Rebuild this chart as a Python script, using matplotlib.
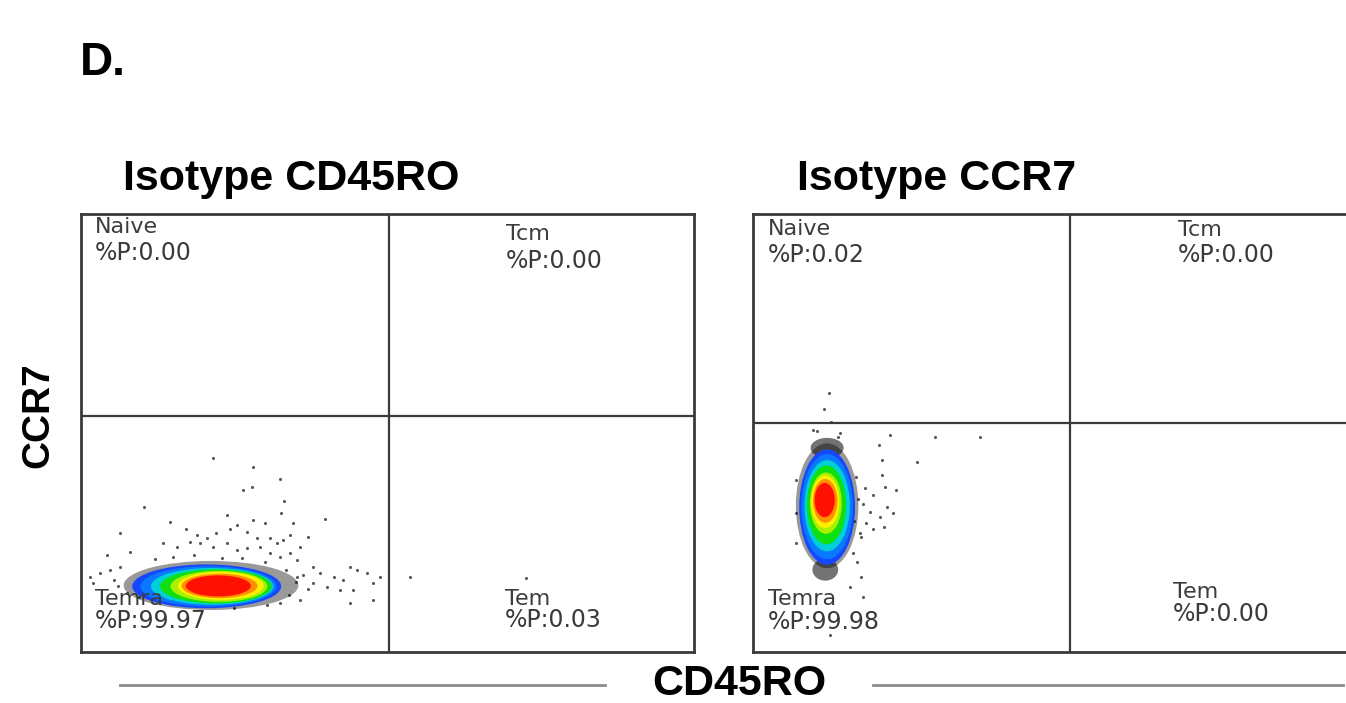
import matplotlib as mpl
mpl.use("Agg")
import matplotlib.pyplot as plt
from matplotlib.patches import Ellipse

# =============================================================================
# 1. Data (arbitrary fluorescence units, 0-1000 per axis)
# =============================================================================
panel_titles = ["Isotype CD45RO", "Isotype CCR7"]
quadrant_names = ["Naive", "Tcm", "Temra", "Tem"]
quadrant_pct = [
    ["0.00", "0.00", "99.97", "0.03"],
    ["0.02", "0.00", "99.98", "0.00"],
]
gate_x = [502, 517]
gate_y = [539, 523]

# density levels, outer -> inner: centre x, centre y, width, height
p1_cx = [212, 205, 208, 214, 220, 225, 228, 226, 224]
p1_cy = [152, 150, 150, 150, 150, 150, 151, 151, 151]
p1_w = [285, 243, 222, 200, 182, 158, 140, 124, 106]
p1_h = [112, 100, 92, 84, 78, 71, 64, 56, 48]

p2_cx = [121, 121, 121, 121, 120, 119, 118, 118, 117]
p2_cy = [334, 331, 332, 334, 336, 340, 343, 345, 347]
p2_w = [102, 91, 84, 74, 64, 52, 46, 40, 33]
p2_h = [285, 263, 240, 208, 180, 140, 120, 100, 78]

level_colors = ["black", "#1448ff", "#0a78ff", "#00d0d8", "#10e010",
                "#a8f000", "#fff000", "#ff9000", "#ff1000"]
level_alpha = [0.4, 1, 1, 1, 1, 1, 1, 1, 1]

# sparse events outside the dense core
p1_x = [216, 281, 325, 265, 279, 102, 331, 398, 327, 238, 145, 64, 80, 42, 300,
        346, 371, 357, 172, 189, 205, 221, 243, 254, 270, 281, 287, 308, 319, 330,
        341, 134, 156, 178, 194, 216, 238, 254, 270, 292, 308, 325, 341, 352, 379,
        390, 412, 428, 439, 450, 466, 477, 488, 423, 444, 401, 379, 352, 477, 439,
        537, 357, 15, 31, 47, 64, 20, 53, 249, 303, 325, 726,
        120, 150, 185, 230, 262, 300, 335, 350, 60, 75, 95, 340, 362, 370]
p1_y = [444, 422, 394, 370, 377, 332, 345, 303, 317, 313, 298, 271, 229, 221, 294,
        294, 263, 240, 282, 267, 260, 271, 282, 290, 275, 301, 260, 260, 248, 256,
        267, 248, 240, 252, 248, 240, 248, 233, 237, 240, 225, 218, 225, 210, 195,
        180, 172, 164, 195, 187, 180, 157, 172, 142, 142, 149, 157, 172, 119, 111,
        172, 119, 172, 180, 187, 195, 157, 164, 100, 107, 111, 169,
        212, 218, 222, 215, 214, 205, 188, 160, 150, 135, 125, 130, 175, 145]

p2_x = [124, 116, 128, 224, 297, 370, 205, 267, 210, 210, 215, 234, 183, 196, 180,
        191, 218, 229, 207, 185, 175, 196, 213, 177, 164, 169, 177, 180, 126, 98,
        142, 71, 71, 158, 105, 138, 168, 172, 70, 165]
p2_y = [592, 556, 526, 495, 492, 492, 473, 435, 438, 404, 377, 370, 374, 358, 339,
        320, 332, 317, 309, 294, 271, 282, 286, 263, 225, 206, 172, 126, 39, 507,
        499, 393, 317, 149, 505, 490, 400, 350, 250, 300]

# dark clumps at the ends of the CCR7 isotype cloud
p2_cap_x = [121, 118]
p2_cap_y = [466, 188]
p2_cap_w = [54, 42]
p2_cap_h = [46, 50]

# label anchors (data units): name baseline, value baseline
label_x = [[23, 693, 23, 692], [24, 693, 24, 685]]
name_y = [[957, 941, 107, 107], [952, 950, 107, 123]]
value_y = [[895, 877, 55, 57], [890, 890, 53, 71]]

# =============================================================================
# 2. Figure
# =============================================================================
plt.rcParams["font.family"] = ["Liberation Sans", "DejaVu Sans"]
fig = plt.figure(figsize=(13.46, 7.03), dpi=100)

ax1 = fig.add_axes([0.0602, 0.0725, 0.4554, 0.623])
ax2 = fig.add_axes([0.5594, 0.0725, 0.4554, 0.623])

panels = [
    (ax1, p1_cx, p1_cy, p1_w, p1_h, p1_x, p1_y),
    (ax2, p2_cx, p2_cy, p2_w, p2_h, p2_x, p2_y),
]

for k, (ax, cx, cy, w, h, px, py) in enumerate(panels):
    ax.set_xlim(0, 1000)
    ax.set_ylim(0, 1000)
    ax.set_xticks([])
    ax.set_yticks([])
    for s in ax.spines.values():
        s.set_linewidth(2)
        s.set_color("#3a3a3a")

    ax.scatter(px, py, s=5, color="black", alpha=0.65, linewidths=0, zorder=2)

    for i in range(len(cx)):
        ax.add_patch(Ellipse((cx[i], cy[i]), w[i], h[i], facecolor=level_colors[i],
                             edgecolor="none", alpha=level_alpha[i], zorder=3 + i * 0.1))

    if k == 1:
        for i in range(len(p2_cap_x)):
            ax.add_patch(Ellipse((p2_cap_x[i], p2_cap_y[i]), p2_cap_w[i], p2_cap_h[i],
                                 facecolor="black", edgecolor="none", alpha=0.55, zorder=3.05))

    ax.axvline(gate_x[k], color="#3a3a3a", lw=1.6, zorder=5)
    ax.axhline(gate_y[k], color="#3a3a3a", lw=1.6, zorder=5)

    for q in range(4):
        ax.text(label_x[k][q], name_y[k][q], quadrant_names[q], family="DejaVu Sans",
                ha="left", va="baseline", fontsize=16, color="#3c3c3c", zorder=6)
        ax.text(label_x[k][q], value_y[k][q], f"%P:{quadrant_pct[k][q]}",
                family="DejaVu Sans",
                ha="left", va="baseline", fontsize=17, color="#3a3a3a", zorder=6)

fig.text(0.0594, 0.893, "D.", fontsize=33, fontweight="bold", ha="left", va="baseline")
fig.text(0.0914, 0.7297, panel_titles[0], fontsize=31, fontweight="bold",
         ha="left", va="baseline")
fig.text(0.592, 0.7297, panel_titles[1], fontsize=31, fontweight="bold",
         ha="left", va="baseline")
fig.text(0.0282, 0.4097, "CCR7", fontsize=28, fontweight="bold", rotation=90,
         ha="center", va="center")
fig.text(0.549, 0.027, "CD45RO", fontsize=31, fontweight="bold", ha="center", va="center")

fig.add_artist(plt.Line2D([0.0892, 0.4495], [0.0256, 0.0256], color="#8c8c8c", lw=2))
fig.add_artist(plt.Line2D([0.6486, 0.998], [0.0256, 0.0256], color="#8c8c8c", lw=2))

fig.savefig("out.png", dpi=100, facecolor="white")
plt.close()
